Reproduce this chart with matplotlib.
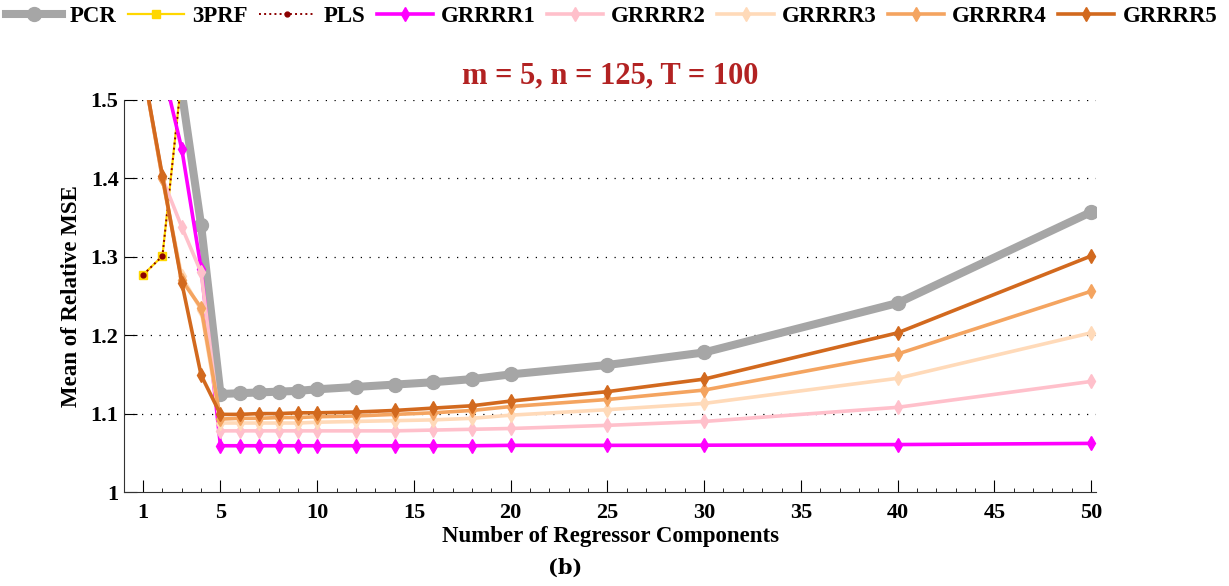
import matplotlib
matplotlib.use("Agg")
import matplotlib.pyplot as plt

plt.rcParams["font.family"] = ["Liberation Serif", "DejaVu Serif"]
plt.rcParams["font.weight"] = "bold"

# number of regressor components
x = [1, 2, 3, 4, 5, 6, 7, 8, 9, 10, 12, 14, 16, 18, 20, 25, 30, 40, 50]
x_prf = [1, 2, 3, 4, 5]

pcr = [2.10, 1.85, 1.51, 1.34, 1.125, 1.126, 1.127, 1.128, 1.129, 1.131,
       1.134, 1.137, 1.140, 1.144, 1.150, 1.162, 1.178, 1.241, 1.357]
prf3 = [1.277, 1.301, 1.53, 1.79, 2.06]
pls = [1.277, 1.301, 1.53, 1.79, 2.06]
grrrr1 = [1.75, 1.542, 1.4375, 1.285, 1.059, 1.059, 1.059, 1.059, 1.059, 1.059,
          1.059, 1.059, 1.059, 1.059, 1.0595, 1.0595, 1.0597, 1.0605, 1.062]
grrrr2 = [1.54, 1.40, 1.338, 1.28, 1.078, 1.078, 1.078, 1.078, 1.078, 1.078,
          1.078, 1.078, 1.079, 1.080, 1.081, 1.085, 1.090, 1.108, 1.141]
grrrr3 = [1.54, 1.40, 1.275, 1.232, 1.088, 1.088, 1.088, 1.088, 1.088, 1.089,
          1.090, 1.091, 1.092, 1.094, 1.098, 1.105, 1.113, 1.145, 1.203]
grrrr4 = [1.54, 1.40, 1.27, 1.235, 1.093, 1.094, 1.094, 1.095, 1.095, 1.096,
          1.097, 1.099, 1.101, 1.104, 1.109, 1.118, 1.130, 1.176, 1.256]
grrrr5 = [1.54, 1.403, 1.267, 1.149, 1.099, 1.099, 1.100, 1.100, 1.101, 1.101,
          1.102, 1.104, 1.107, 1.110, 1.116, 1.128, 1.144, 1.203, 1.301]

yticks = [1.0, 1.1, 1.2, 1.3, 1.4, 1.5]
ytick_labels = ["1", "1.1", "1.2", "1.3", "1.4", "1.5"]
xticks = [1, 5, 10, 15, 20, 25, 30, 35, 40, 45, 50]

fig = plt.figure(figsize=(12.29, 5.86), dpi=100)
ax = fig.add_axes([0.101, 0.1604, 0.791, 0.669])

ax.plot(x, pcr, color="#a6a6a6", lw=5.8, marker="o", ms=10, label="PCR")
ax.plot(x_prf, prf3, color="#ffd700", lw=1.6, marker="s", ms=6, label="3PRF")
ax.plot(x_prf, pls, color="#8b0000", lw=1.4, ls=":", marker="o", ms=3.5, label="PLS")
ax.plot(x, grrrr1, color="#ff00ff", lw=2.6, marker="d", ms=7, label="GRRRR1")
ax.plot(x, grrrr2, color="#ffc0cb", lw=2.6, marker="d", ms=7, label="GRRRR2")
ax.plot(x, grrrr3, color="#ffdab9", lw=2.6, marker="d", ms=7, label="GRRRR3")
ax.plot(x, grrrr4, color="#f4a460", lw=2.6, marker="d", ms=7, label="GRRRR4")
ax.plot(x, grrrr5, color="#d2691e", lw=2.6, marker="d", ms=7, label="GRRRR5")

ax.set_xlim(0.02, 50.27)
ax.set_ylim(1.0, 1.5)
ax.set_xticks(xticks)
ax.set_xticks(range(1, 51), minor=True)
ax.set_yticks(yticks)
ax.set_yticklabels(ytick_labels)
ax.tick_params(axis="both", which="major", direction="in", length=9, width=0.8,
               labelsize=16)
ax.tick_params(axis="x", which="major", pad=8)
ax.tick_params(axis="y", which="major", pad=4)
ax.tick_params(axis="x", which="minor", direction="in", length=3, width=0.6)
for lab in ax.get_xticklabels() + ax.get_yticklabels():
    lab.set_fontweight("bold")

for sp in ["top", "right"]:
    ax.spines[sp].set_visible(False)
ax.spines["left"].set_color("#333333")
ax.spines["bottom"].set_color("#333333")

# dotted horizontal guides
for yv in yticks[1:]:
    ax.axhline(yv, color="black", lw=0.9, ls=(0, (1, 6)), zorder=0.5)

ax.set_title("m = 5, n = 125, T = 100", color="#b22222", fontsize=22,
             fontweight="bold", pad=12)
ax.set_xlabel("Number of Regressor Components", fontsize=16.5, fontweight="bold",
              labelpad=2)
ax.set_ylabel("Mean of Relative MSE", fontsize=16.5, fontweight="bold", labelpad=6)

fig.legend(loc="upper left", bbox_to_anchor=(0.0, 1.0), ncol=8, frameon=False,
           prop={"size": 16.5, "weight": "bold"}, handlelength=2.45,
           handletextpad=0.35, columnspacing=0.5, borderaxespad=0.0,
           borderpad=0.25)

fig.text(0.46, 0.02, "(b)", ha="center", fontsize=15, fontweight="bold",
         family=["DejaVu Serif"])

fig.savefig("out.png", dpi=100)
